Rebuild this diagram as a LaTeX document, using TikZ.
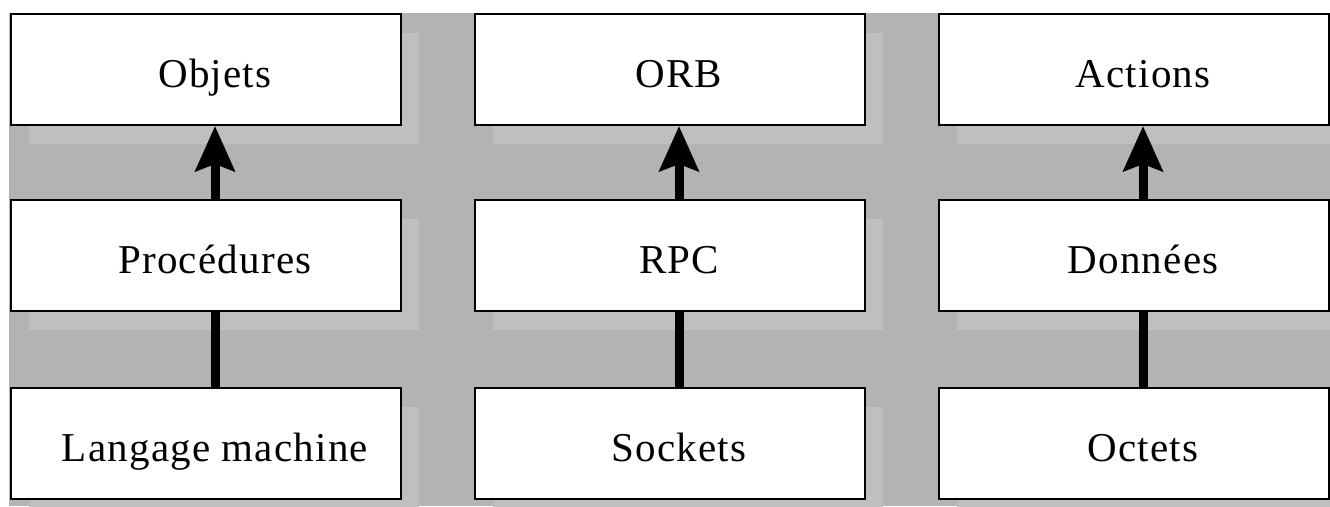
\documentclass[tikz,border=0pt]{standalone}
\usepackage{fontspec}
\setmainfont{Liberation Serif}[LetterSpace=3.0]
\usetikzlibrary{arrows.meta}
\definecolor{bggray}{RGB}{179,179,179}
\definecolor{shadowgray}{RGB}{191,191,191}
\tikzset{
  layerbox/.style={draw=black, line width=2pt, fill=white, rectangle,
    minimum width=390pt, minimum height=111pt, inner sep=0pt, anchor=north west},
  layertext/.style={anchor=base, inner sep=0pt, font=\fontsize{41}{46}\selectfont},
  uplink/.style={line width=9pt, -{Stealth[length=45pt, width=39pt, inset=7pt]}},
  plainlink/.style={line width=9pt},
}
\begin{document}
\begin{tikzpicture}[x=1pt, y=-1pt]
  \useasboundingbox (0,0) rectangle (1330,506);
  % grey backdrop
  \fill[bggray] (9,13) rectangle (1330,506);
  % drop shadows under the boxes
  \foreach \cx in {10,474,938}{
    \foreach \cy in {13,199,387}{
      \fill[shadowgray] (\cx+19,\cy+19.5) rectangle (\cx+409,\cy+130.5);
    }
  }
  % column 1
  \node[layerbox] (obj)  at (10,13)  {};
  \node[layerbox] (proc) at (10,199) {};
  \node[layerbox] (lang) at (10,387) {};
  % column 2
  \node[layerbox] (orb)  at (474,13)  {};
  \node[layerbox] (rpc)  at (474,199) {};
  \node[layerbox] (sock) at (474,387) {};
  % column 3
  \node[layerbox] (act)  at (938,13)  {};
  \node[layerbox] (don)  at (938,199) {};
  \node[layerbox] (oct)  at (938,387) {};
  % labels
  \foreach \b/\t in {obj/Objets, proc/Procédures, lang/Langage machine,
                     orb/ORB, rpc/RPC, sock/Sockets,
                     act/Actions, don/Données, oct/Octets}{
    \node[layertext] (t-\b) at ([shift={(9,17.5)}]\b.center) {\t};
  }
  % connectors
  \draw[plainlink] (lang.north -| t-lang) -- (proc.south -| t-lang);
  \draw[uplink]    (proc.north -| t-proc) -- (obj.south -| t-proc);
  \draw[plainlink] (sock.north -| t-sock) -- (rpc.south -| t-sock);
  \draw[uplink]    (rpc.north -| t-rpc)   -- (orb.south -| t-rpc);
  \draw[plainlink] (oct.north -| t-oct)   -- (don.south -| t-oct);
  \draw[uplink]    (don.north -| t-don)   -- (act.south -| t-don);
\end{tikzpicture}
\end{document}
